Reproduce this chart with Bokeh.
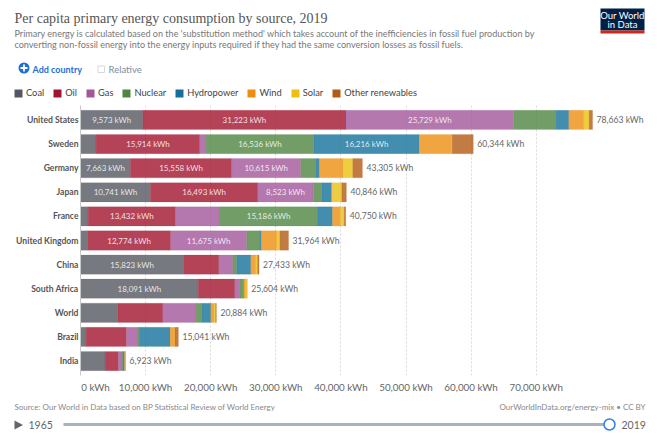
from bokeh.plotting import figure
from bokeh.models import (ColumnDataSource, FactorRange, Range1d, Label, BoxAnnotation, PolyAnnotation,
                          Legend, LegendItem, FixedTicker)
from bokeh.layouts import column
from bokeh.core.properties import value
from bokeh.embed import file_html
from bokeh.resources import INLINE

countries = ["United States", "Sweden", "Germany", "Japan", "France", "United Kingdom",
             "China", "South Africa", "World", "Brazil", "India"]
sources = ["Coal", "Oil", "Gas", "Nuclear", "Hydropower", "Wind", "Solar", "Other renewables"]
colors = ["#555862", "#A2142E", "#A3569A", "#4F8540", "#14709A", "#EE8E10", "#EBC010", "#B35A14"]

coal = [9573, 2406, 7663, 10741, 1178, 1075, 15823, 18091, 5734, 870, 3789]
oil = [31223, 15914, 15558, 16493, 13432, 12774, 5425, 5615, 6912, 6196, 2048]
gas = [25729, 980, 10615, 8523, 6690, 11675, 2150, 768, 5120, 1792, 563]
nuclear = [6435, 16536, 2260, 1310, 15186, 2073, 615, 563, 871, 150, 102]
hydropower = [2050, 16216, 610, 1485, 2222, 205, 2150, 50, 1382, 4760, 256]
wind = [2300, 4980, 3690, 150, 1230, 2355, 768, 300, 512, 717, 90]
solar = [820, 60, 1430, 1430, 563, 461, 256, 216, 205, 30, 50]
other = [533, 3244, 1479, 714, 249, 1346, 246, 1, 148, 526, 25]
totals = [78663, 60344, 43305, 40846, 40750, 31964, 27433, 25604, 20884, 15041, 6923]
series = [coal, oil, gas, nuclear, hydropower, wind, solar, other]

ticks = [0, 10000, 20000, 30000, 40000, 50000, 60000, 70000]
years = [1965, 2019]
title = "Per capita primary energy consumption by source, 2019"
subtitle = ["Primary energy is calculated based on the 'substitution method' which takes account of the inefficiencies in fossil fuel production by",
            "converting non-fossil energy into the energy inputs required if they had the same conversion losses as fossil fuels."]

W = 657
HEAD_H = 105    # page y 0..105
MAIN_H = 293    # page y 105..398
FOOT_H = 37     # page y 398..435
FL = 80
FW = W - FL - 4
FH = 270
PX_PER = 65.1 / 10000


def bare(height, x_range, y_range):
    f = figure(width=W, height=height, output_backend="svg", toolbar_location=None,
               x_range=x_range, y_range=y_range, x_axis_location=None, y_axis_location=None,
               min_border=0, outline_line_color=None, background_fill_color="white", border_fill_color="white")
    f.grid.visible = False
    return f


def lab(f, bottom, text, px, py, size, color, font="Lato", align="left", style="normal"):
    f.add_layout(Label(x=px, y=bottom - py, x_units="screen", y_units="screen", text=text,
                       text_font=font, text_font_size=size, text_color=color, text_align=align,
                       text_baseline="alphabetic", text_font_style=style))


def box(f, bottom, l, t, r, b, fill, line=None, radius=0):
    f.add_layout(BoxAnnotation(left=l, right=r, top=bottom - t, bottom=bottom - b,
                               left_units="screen", right_units="screen", top_units="screen", bottom_units="screen",
                               fill_color=fill, fill_alpha=1, line_color=line, line_alpha=1 if line else 0,
                               border_radius=radius, level="underlay"))


# ---------- header ----------
h = bare(HEAD_H, Range1d(0, 1), FactorRange(factors=countries))
HB = 105
lab(h, HB, title, 14, 17.5, "14px", "#555555", font="Liberation Serif")
lab(h, HB, subtitle[0], 14, 32.5, "9.05px", "#777777")
lab(h, HB, subtitle[1], 14, 43.5, "9.05px", "#777777")

box(h, HB, 600, 8, 644, 30, "#002147")
box(h, HB, 600, 30, 644, 33, "#CE261E")
lab(h, HB, "Our World", 622, 14.5, "9.5px", "white", align="center")
lab(h, HB, "in Data", 622, 23.5, "9.5px", "white", align="center")

box(h, HB, 18, 62, 29, 73, "#1D6FD6", radius=6)
box(h, HB, 20, 66.6, 27, 68.4, "white")
box(h, HB, 22.6, 64, 24.4, 71, "white")
lab(h, HB, "Add country", 32, 68.5, "9px", "#1D6FD6", style="bold")
box(h, HB, 97.5, 65.5, 104, 72, "white", line="#d8d8d8")
lab(h, HB, "Relative", 108, 68.5, "9.5px", "#7b8da0")

items = []
for s, col in zip(sources, colors):
    r = h.hbar(y=[countries[0]], left=[0], right=[0], height=0.8, fill_color=col, line_color=None)
    items.append(LegendItem(label=s, renderers=[r]))
h.add_layout(Legend(items=items, orientation="horizontal", location=(13, 7),
                    background_fill_alpha=0, border_line_color=None, padding=0, margin=0,
                    glyph_width=10, glyph_height=10, label_standoff=3, spacing=8,
                    label_text_font="Lato", label_text_font_size="9.3px", label_text_color="#444444",
                    label_height=10, label_width=1))

# ---------- main chart ----------
p = figure(width=W, height=MAIN_H, frame_width=FW, frame_height=FH,
           output_backend="svg", toolbar_location=None,
           x_range=Range1d(0, FW / PX_PER),
           y_range=FactorRange(factors=countries[::-1], range_padding=0.1, range_padding_units="absolute"),
           min_border_left=FL, min_border_right=0, min_border_top=0, min_border_bottom=MAIN_H - FH,
           outline_line_color=None, background_fill_color="white", border_fill_color="white")

p.ygrid.visible = False
p.xgrid.grid_line_color = "#d8d8d8"
p.xgrid.grid_line_dash = "2 2"
p.xgrid.ticker = FixedTicker(ticks=ticks[1:])

ax = p.xaxis[0]
ax.ticker = FixedTicker(ticks=ticks)
ax.major_label_overrides = {t: f"{t:,} kWh" for t in ticks[1:]} | {0: "\u00a0" * 12 + "0 kWh"}
ax.axis_line_color = None
ax.major_tick_line_color = None
ax.major_tick_out = 0
ax.minor_tick_line_color = None
ax.minor_tick_out = 0
ax.major_label_text_font = "Lato"
ax.major_label_text_font_size = "9.8px"
ax.major_label_text_color = "#666666"
ax.major_label_standoff = 5

ay = p.yaxis[0]
ay.axis_line_color = "#c8c8c8"
ay.axis_line_width = 1
ay.major_tick_line_color = None
ay.major_tick_out = 0
ay.minor_tick_line_color = None
ay.minor_tick_out = 0
ay.major_label_text_font = "Lato"
ay.major_label_text_font_style = "bold"
ay.major_label_text_font_size = "8.6px"
ay.major_label_text_color = "#555555"
ay.major_label_standoff = 2

lefts = [0] * len(countries)
txt = {"x": [], "y": [], "t": []}
for vals, col in zip(series, colors):
    rights = [a + b for a, b in zip(lefts, vals)]
    src = ColumnDataSource(dict(y=countries, left=lefts, right=rights))
    p.hbar(y="y", left="left", right="right", height=0.8, source=src,
           fill_color=col, fill_alpha=0.8, line_color=col, line_alpha=0.25, line_width=0.5)
    for c, l, v in zip(countries, lefts, vals):
        if v > 7000:
            txt["x"].append(l + v / 2)
            txt["y"].append(c)
            txt["t"].append(f"{v:,} kWh")
    lefts = rights

p.text(x="x", y="y", text="t", source=ColumnDataSource(txt), text_color="white", text_alpha=0.85,
       text_font=value("Lato"), text_font_size="8px", text_align="center", text_baseline="middle")

p.text(x="x", y="y", text="t",
       source=ColumnDataSource(dict(x=totals, y=countries, t=[f"{v:,} kWh" for v in totals])),
       text_color="#666666", text_font=value("Lato"), text_font_size="8.6px",
       text_align="left", text_baseline="middle", x_offset=4)

# ---------- footer and timeline ----------
sw = (years[1] - years[0]) / (609 - 63)
t = bare(FOOT_H, Range1d(years[0] - 63 * sw, years[1] + (W - 609) * sw), Range1d(0, FOOT_H))
FB = 435
lab(t, FB, "Source: Our World in Data based on BP Statistical Review of World Energy", 14, 406.5, "8px", "#888888")
lab(t, FB, "OurWorldInData.org/energy-mix • CC BY", 645, 406.5, "8px", "#888888", align="right")
t.line(x=years, y=[11, 11], line_color="#aab2c0", line_width=3)
t.scatter(x=[years[1]], y=[11], size=11, fill_color="white", line_color="#2f80ed", line_width=1.5)
t.add_layout(Label(x=years[0], y=11, text=str(years[0]), x_offset=-35, text_baseline="middle",
                   text_font="Lato", text_font_size="10.5px", text_color="#666666"))
t.add_layout(Label(x=years[1], y=11, text=str(years[1]), x_offset=12, text_baseline="middle",
                   text_font="Lato", text_font_size="10.5px", text_color="#666666"))
t.add_layout(PolyAnnotation(xs=[14, 14, 22.5], ys=[15, 6, 10.5], xs_units="screen", ys_units="screen",
                            fill_color="#666666", fill_alpha=1, line_color=None))

doc = column(column(h), column(p), column(t), spacing=0)
open("out.html", "w").write(file_html(doc, INLINE))
